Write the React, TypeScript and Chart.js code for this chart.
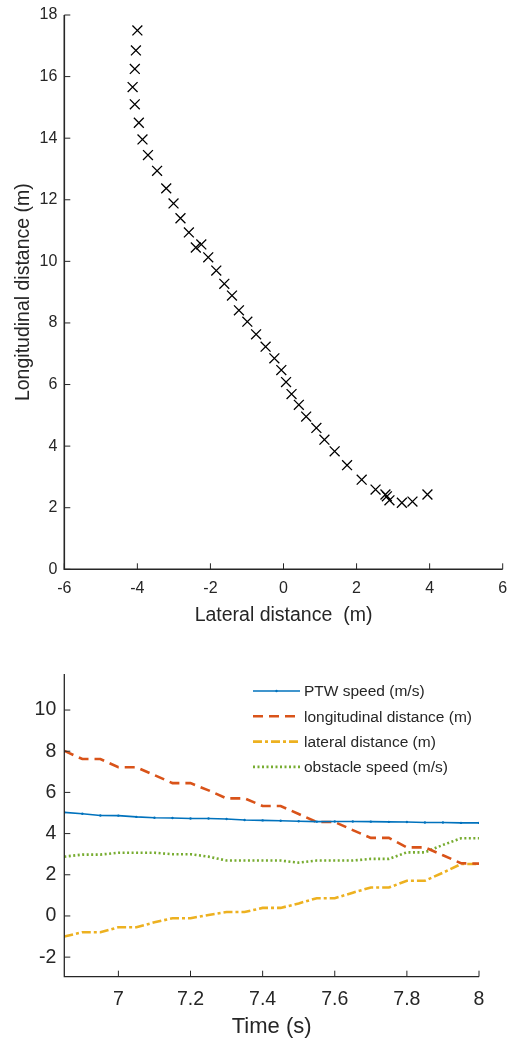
import React, { useEffect, useRef } from 'react';
import { Chart, registerables } from 'chart.js';

Chart.register(...registerables);

const FONT = '"Liberation Sans", Arial, Helvetica, sans-serif';
const INK = '#262626';

// ---------- Top chart: trajectory ----------
const lateralPos = [
  -4.0, -4.04, -4.07, -4.13, -4.07, -3.96, -3.86, -3.71, -3.46, -3.21,
  -3.01, -2.82, -2.59, -2.4, -2.25, -2.06, -1.84, -1.62, -1.41, -1.22,
  -0.99, -0.75, -0.49, -0.25, -0.06, 0.07, 0.22, 0.42, 0.62, 0.9,
  1.12, 1.4, 1.74, 2.14, 2.52, 2.79, 2.83, 2.9, 3.24, 3.53, 3.94,
];
const longitudinalPos = [
  17.5, 16.85, 16.25, 15.66, 15.1, 14.5, 13.96, 13.45, 12.94, 12.37,
  11.88, 11.4, 10.94, 10.45, 10.55, 10.13, 9.7, 9.27, 8.89, 8.41,
  8.04, 7.63, 7.23, 6.85, 6.47, 6.08, 5.69, 5.34, 4.96, 4.59,
  4.21, 3.83, 3.38, 2.91, 2.59, 2.43, 2.37, 2.24, 2.16, 2.2, 2.43,
];
const topXTicks = [-6, -4, -2, 0, 2, 4, 6];
const topYTicks = [0, 2, 4, 6, 8, 10, 12, 14, 16, 18];

// ---------- Bottom chart: time series ----------
const time = [
  6.85, 6.9, 6.95, 7.0, 7.05, 7.1, 7.15, 7.2, 7.25, 7.3, 7.35, 7.4,
  7.45, 7.5, 7.55, 7.6, 7.65, 7.7, 7.75, 7.8, 7.85, 7.9, 7.95, 8.0,
];
const ptwSpeed = [
  5.03, 4.96, 4.88, 4.87, 4.81, 4.77, 4.76, 4.73, 4.73, 4.71, 4.66, 4.64,
  4.62, 4.6, 4.58, 4.59, 4.59, 4.58, 4.57, 4.56, 4.54, 4.54, 4.52, 4.52,
];
const longDist = [
  8.02, 7.62, 7.62, 7.22, 7.22, 6.84, 6.45, 6.45, 6.1, 5.71, 5.71, 5.34,
  5.34, 4.95, 4.56, 4.56, 4.17, 3.79, 3.79, 3.33, 3.33, 2.95, 2.56, 2.54,
];
const latDist = [
  -1.0, -0.79, -0.79, -0.55, -0.55, -0.31, -0.11, -0.11, 0.05, 0.19, 0.19, 0.39,
  0.39, 0.61, 0.86, 0.86, 1.13, 1.38, 1.38, 1.71, 1.71, 2.1, 2.52, 2.52,
];
const obstacleSpeed = [
  2.88, 2.98, 2.98, 3.07, 3.07, 3.07, 3.0, 3.0, 2.88, 2.69, 2.69, 2.69,
  2.69, 2.59, 2.69, 2.69, 2.69, 2.77, 2.77, 3.09, 3.09, 3.45, 3.77, 3.77,
];
const seriesLabels = [
  'PTW speed (m/s)',
  'longitudinal distance (m)',
  'lateral distance (m)',
  'obstacle speed (m/s)',
];
const bottomXTicks = [7, 7.2, 7.4, 7.6, 7.8, 8];
const bottomYTicks = [-2, 0, 2, 4, 6, 8, 10];

const fmt = (v: number) => String(Number(Number(v).toFixed(2)));

function makeAxesPlugin(tickLen: number, lineWidth: number) {
  return {
    id: 'matlabAxes',
    afterDatasetsDraw(chart: any) {
      const { ctx, chartArea } = chart;
      const { left, right, top, bottom } = chartArea;
      const xs = chart.scales.x;
      const ys = chart.scales.y;
      ctx.save();
      ctx.strokeStyle = INK;
      ctx.lineWidth = lineWidth;
      ctx.setLineDash([]);
      ctx.beginPath();
      ctx.moveTo(left, top);
      ctx.lineTo(left, bottom);
      ctx.lineTo(right, bottom);
      ctx.stroke();
      ctx.lineWidth = 1;
      ctx.beginPath();
      xs.ticks.forEach((t: any) => {
        const px = xs.getPixelForValue(t.value);
        ctx.moveTo(px, bottom);
        ctx.lineTo(px, bottom - tickLen);
      });
      ys.ticks.forEach((t: any) => {
        const py = ys.getPixelForValue(t.value);
        ctx.moveTo(left, py);
        ctx.lineTo(left + tickLen, py);
      });
      ctx.stroke();
      ctx.restore();
    },
  };
}

const legendPlugin = {
  id: 'matlabLegend',
  afterDraw(chart: any) {
    const { ctx } = chart;
    const x0 = 253;
    const x1 = 300;
    const tx = 304;
    const y0 = 51;
    const dy = 25.3;
    ctx.save();
    chart.data.datasets.forEach((ds: any, i: number) => {
      const y = y0 + i * dy;
      ctx.strokeStyle = ds.borderColor;
      ctx.lineWidth = ds.borderWidth;
      ctx.setLineDash(ds.borderDash || []);
      ctx.beginPath();
      ctx.moveTo(x0, y);
      ctx.lineTo(x1, y);
      ctx.stroke();
      if (ds.pointRadius > 0) {
        ctx.setLineDash([]);
        ctx.fillStyle = ds.borderColor;
        ctx.beginPath();
        ctx.arc((x0 + x1) / 2, y, ds.pointRadius, 0, Math.PI * 2);
        ctx.fill();
      }
      ctx.setLineDash([]);
      ctx.fillStyle = INK;
      ctx.font = `15.5px ${FONT}`;
      ctx.textAlign = 'left';
      ctx.textBaseline = 'middle';
      ctx.fillText(ds.label, tx, y + 1);
    });
    ctx.restore();
  },
};

const zeroPad = (s: any) => {
  s.paddingLeft = 0;
  s.paddingRight = 0;
  s.paddingTop = 0;
  s.paddingBottom = 0;
};

export default function App() {
  const topRef = useRef<HTMLCanvasElement>(null);
  const botRef = useRef<HTMLCanvasElement>(null);

  useEffect(() => {
    const topH = 640;
    const botH = 400;

    const top = new Chart(topRef.current as HTMLCanvasElement, {
      type: 'scatter',
      data: {
        datasets: [
          {
            data: lateralPos.map((x, i) => ({ x, y: longitudinalPos[i] })),
            pointStyle: 'crossRot',
            pointRadius: 7,
            pointBorderWidth: 1.3,
            borderColor: '#000000',
            backgroundColor: '#000000',
            showLine: false,
          },
        ],
      },
      options: {
        animation: false,
        responsive: false,
        devicePixelRatio: 1,
        layout: { autoPadding: false, padding: { top: 15, right: 5.3, bottom: 13, left: 0 } },
        plugins: { legend: { display: false }, tooltip: { enabled: false } },
        scales: {
          x: {
            type: 'linear',
            min: -6,
            max: 6,
            afterBuildTicks: (s: any) => {
              s.ticks = topXTicks.map((v) => ({ value: v }));
            },
            afterFit: (s: any) => {
              s.height = topH - 569.3 - 13;
              zeroPad(s);
            },
            grid: { display: false, drawTicks: false },
            border: { display: false },
            ticks: {
              color: INK,
              font: { family: FONT, size: 16 },
              padding: 10,
              maxRotation: 0,
              autoSkip: false,
              callback: (v: any) => fmt(v),
            },
            title: {
              display: true,
              text: 'Lateral distance  (m)',
              color: INK,
              font: { family: FONT, size: 19.5 },
              padding: { top: 0, bottom: 0 },
            },
          },
          y: {
            type: 'linear',
            min: 0,
            max: 18,
            afterBuildTicks: (s: any) => {
              s.ticks = topYTicks.map((v) => ({ value: v }));
            },
            afterFit: (s: any) => {
              s.width = 64.3;
              zeroPad(s);
            },
            grid: { display: false, drawTicks: false },
            border: { display: false },
            ticks: {
              color: INK,
              font: { family: FONT, size: 16 },
              padding: 7,
              autoSkip: false,
              callback: (v: any) => fmt(v),
            },
            title: {
              display: true,
              text: 'Longitudinal distance (m)',
              color: INK,
              font: { family: FONT, size: 19.5 },
              padding: { top: 11.5, bottom: 0 },
            },
          },
        },
      },
      plugins: [makeAxesPlugin(6, 1.6)],
    } as any);

    const mk = (arr: number[]) => time.map((t, i) => ({ x: t, y: arr[i] }));

    const bot = new Chart(botRef.current as HTMLCanvasElement, {
      type: 'line',
      data: {
        datasets: [
          {
            label: seriesLabels[0],
            data: mk(ptwSpeed),
            borderColor: '#0072BD',
            backgroundColor: '#0072BD',
            borderWidth: 1.6,
            pointRadius: 1.2,
            pointBorderWidth: 0,
            pointBackgroundColor: '#0072BD',
            tension: 0,
          },
          {
            label: seriesLabels[1],
            data: mk(longDist),
            borderColor: '#D95319',
            backgroundColor: '#D95319',
            borderWidth: 2.6,
            borderDash: [10, 6],
            pointRadius: 0,
            tension: 0,
          },
          {
            label: seriesLabels[2],
            data: mk(latDist),
            borderColor: '#EDB120',
            backgroundColor: '#EDB120',
            borderWidth: 2.6,
            borderDash: [9, 3, 3, 3],
            pointRadius: 0,
            tension: 0,
          },
          {
            label: seriesLabels[3],
            data: mk(obstacleSpeed),
            borderColor: '#77AC30',
            backgroundColor: '#77AC30',
            borderWidth: 2.6,
            borderDash: [2, 2.5],
            pointRadius: 0,
            tension: 0,
          },
        ],
      },
      options: {
        animation: false,
        responsive: false,
        devicePixelRatio: 1,
        layout: { autoPadding: false, padding: { top: 34, right: 29, bottom: 0, left: 0 } },
        plugins: { legend: { display: false }, tooltip: { enabled: false } },
        scales: {
          x: {
            type: 'linear',
            min: 6.85,
            max: 8,
            afterBuildTicks: (s: any) => {
              s.ticks = bottomXTicks.map((v) => ({ value: v }));
            },
            afterFit: (s: any) => {
              s.height = botH - 336.7;
              zeroPad(s);
            },
            grid: { display: false, drawTicks: false },
            border: { display: false },
            ticks: {
              color: INK,
              font: { family: FONT, size: 19.5 },
              padding: 11,
              maxRotation: 0,
              autoSkip: false,
              callback: (v: any) => fmt(v),
            },
            title: {
              display: true,
              text: 'Time (s)',
              color: INK,
              font: { family: FONT, size: 22 },
              padding: { top: 0, bottom: 0 },
            },
          },
          y: {
            type: 'linear',
            min: -2.95,
            max: 11.75,
            afterBuildTicks: (s: any) => {
              s.ticks = bottomYTicks.map((v) => ({ value: v }));
            },
            afterFit: (s: any) => {
              s.width = 64.3;
              zeroPad(s);
            },
            grid: { display: false, drawTicks: false },
            border: { display: false },
            ticks: {
              color: INK,
              font: { family: FONT, size: 19.5 },
              padding: 8,
              autoSkip: false,
              callback: (v: any) => fmt(v),
            },
          },
        },
      },
      plugins: [makeAxesPlugin(6, 1.3), legendPlugin],
    } as any);

    return () => {
      top.destroy();
      bot.destroy();
    };
  }, []);

  return (
    <div
      style={{
        position: 'absolute',
        left: 0,
        top: 0,
        width: 508,
        height: 1040,
        background: '#ffffff',
      }}
    >
      <canvas
        ref={topRef}
        width={508}
        height={640}
        style={{ position: 'absolute', left: 0, top: 0, width: 508, height: 640 }}
      />
      <canvas
        ref={botRef}
        width={508}
        height={400}
        style={{ position: 'absolute', left: 0, top: 640, width: 508, height: 400 }}
      />
    </div>
  );
}
